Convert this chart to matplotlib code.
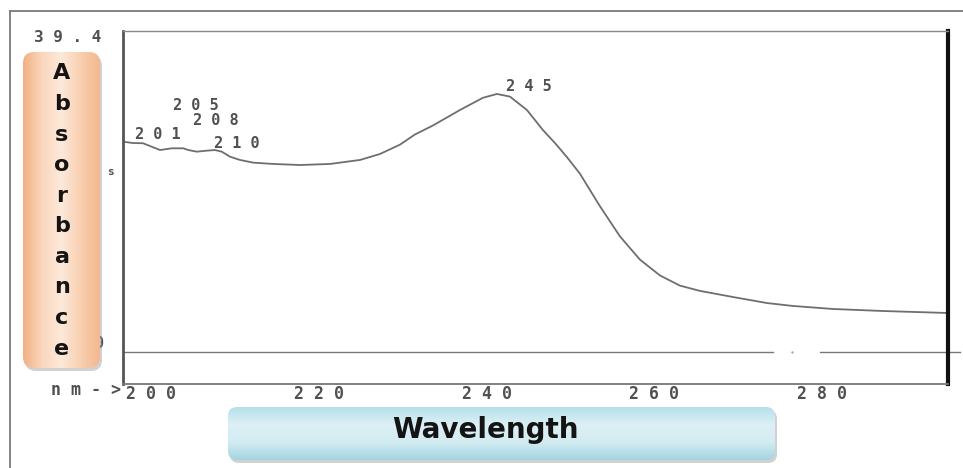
import numpy as np
import matplotlib
matplotlib.use("Agg")
import matplotlib.pyplot as plt
from matplotlib.patches import FancyBboxPatch
from matplotlib.colors import LinearSegmentedColormap

# spectrum (nm, absorbance units of the recorder)
wavelength = [196.90, 197.85, 199.05, 200.08, 201.07, 202.47, 203.85, 204.45,
              205.45, 206.64, 207.63, 208.43, 209.42, 210.61, 212.19, 214.58,
              217.76, 221.34, 224.91, 227.29, 229.68, 231.47, 233.61, 236.83,
              239.57, 241.24, 242.79, 244.82, 246.72, 248.20, 249.58, 251.13,
              252.32, 253.52, 255.90, 258.28, 260.67, 263.05, 265.44, 269.37,
              273.42, 276.52, 281.29, 287.25, 294.88]
absorbance = [25.78, 25.65, 25.62, 25.20, 24.79, 25.00, 25.00, 24.79,
              24.59, 24.71, 24.79, 24.59, 23.97, 23.57, 23.24, 23.08,
              22.95, 23.08, 23.57, 24.30, 25.45, 26.70, 27.80, 29.70,
              31.20, 31.67, 31.35, 29.70, 27.25, 25.60, 23.93, 21.90,
              19.90, 17.90, 14.20, 11.35, 9.40, 8.15, 7.50, 6.75,
              6.01, 5.65, 5.28, 5.03, 4.79]

peak_labels = ["201", "205", "208", "210", "245"]
tick_values = [200, 220, 240, 260, 280]
tick_labels = ["200", "220", "240", "260", "280"]
y_top_label = "39.4"


def spaced(s):
    return " ".join(s)


W, H = 963, 468
fig = plt.figure(figsize=(W / 100, H / 100), dpi=100)
fig.patch.set_facecolor("white")

# main plot area (pixel box 123..948 x 31..384)
ax = fig.add_axes([123 / W, 1 - 384 / H, (948 - 123) / W, (384 - 31) / H])
ax.set_xlim(196.66, 295.02)
ax.set_ylim(-3.93, 39.4)

ax.plot(wavelength, absorbance, color="#6e6e6e", lw=1.3, solid_joinstyle="round")

# zero line runs past the right border, with a gap near 277 nm
ax.plot([196.66, 274.1], [0, 0], color="#777777", lw=1.0, clip_on=False)
ax.plot([279.7, 296.4], [0, 0], color="#777777", lw=1.0, clip_on=False)
ax.plot([276.4], [0], marker=".", ms=1.5, color="#aaaaaa", clip_on=False)

mono = dict(family="DejaVu Sans Mono", fontweight="bold", color="#505050")

label_pos = [(200.83, 26.70), (205.36, 30.20), (207.75, 28.45),
             (210.25, 25.65), (245.05, 32.53)]
for lab, (lx, ly) in zip(peak_labels, label_pos):
    ax.text(lx, ly, spaced(lab), ha="center", va="center", fontsize=11, **mono)

ax.set_xticks(tick_values)
ax.set_xticklabels([spaced(t) for t in tick_labels], fontsize=12, **mono)
ax.tick_params(axis="x", length=0, pad=1)
ax.set_yticks([])

ax.spines["left"].set_color("#555555")
ax.spines["left"].set_linewidth(2.0)
ax.spines["top"].set_color("#888888")
ax.spines["top"].set_linewidth(1.0)
ax.spines["bottom"].set_color("#777777")
ax.spines["bottom"].set_linewidth(1.3)
ax.spines["right"].set_color("#111111")
ax.spines["right"].set_linewidth(3.0)

# overlay in pixel coordinates for frame, boxes and loose labels
ov = fig.add_axes([0, 0, 1, 1], zorder=5)
ov.set_xlim(0, W)
ov.set_ylim(H, 0)
ov.axis("off")
ov.patch.set_alpha(0)

ov.plot([10, W], [11, 11], color="#7a7a7a", lw=1.3)
ov.plot([10, 10], [11, H], color="#7a7a7a", lw=1.3)

ov.text(68, 37, spaced(y_top_label), ha="center", va="center", fontsize=11.5, **mono)
ov.text(111, 172, "s", ha="center", va="center", fontsize=8, zorder=1, **mono)
ov.text(99, 343, "0", ha="center", va="center", fontsize=11, zorder=1, **mono)
ov.text(121, 390, spaced("nm->"), ha="right", va="center", fontsize=12, **mono)


def gradient_box(x0, y0, w, h, colors, vertical, radius, z):
    shadow = FancyBboxPatch((x0 + 2, y0 + 3), w, h,
                            boxstyle=f"round,pad=0,rounding_size={radius}",
                            fc="#9a9a9a", ec="none", alpha=0.45, zorder=z - 1)
    ov.add_patch(shadow)
    patch = FancyBboxPatch((x0, y0), w, h,
                           boxstyle=f"round,pad=0,rounding_size={radius}",
                           fc="none", ec="none", zorder=z)
    ov.add_patch(patch)
    cmap = LinearSegmentedColormap.from_list("g", colors)
    g = np.linspace(0, 1, 256)
    img = g[:, None] if vertical else g[None, :]
    im = ov.imshow(img, cmap=cmap, extent=(x0, x0 + w, y0 + h, y0),
                   aspect="auto", zorder=z, interpolation="bilinear")
    im.set_clip_path(patch)


gradient_box(23, 52, 77, 316, ["#f2b083", "#fbd7bd", "#fde9da", "#f8cfb0", "#f3b88f"],
             False, 11, 3)
gradient_box(228, 407, 547, 53, ["#b6e0ea", "#dcf0f5", "#d3ecf2", "#a3d4e0"],
             True, 9, 3)
ov.set_xlim(0, W)
ov.set_ylim(H, 0)

ov.text(62, 211, "\n".join("Absorbance"), ha="center", va="center",
        fontsize=16, fontweight="bold", family="DejaVu Sans", color="#141414",
        linespacing=1.66, zorder=6)
ov.text(485, 430, "Wavelength", ha="center", va="center", fontsize=20,
        fontweight="bold", family="DejaVu Sans", color="#141414", zorder=6)

fig.savefig("out.png", dpi=100)
